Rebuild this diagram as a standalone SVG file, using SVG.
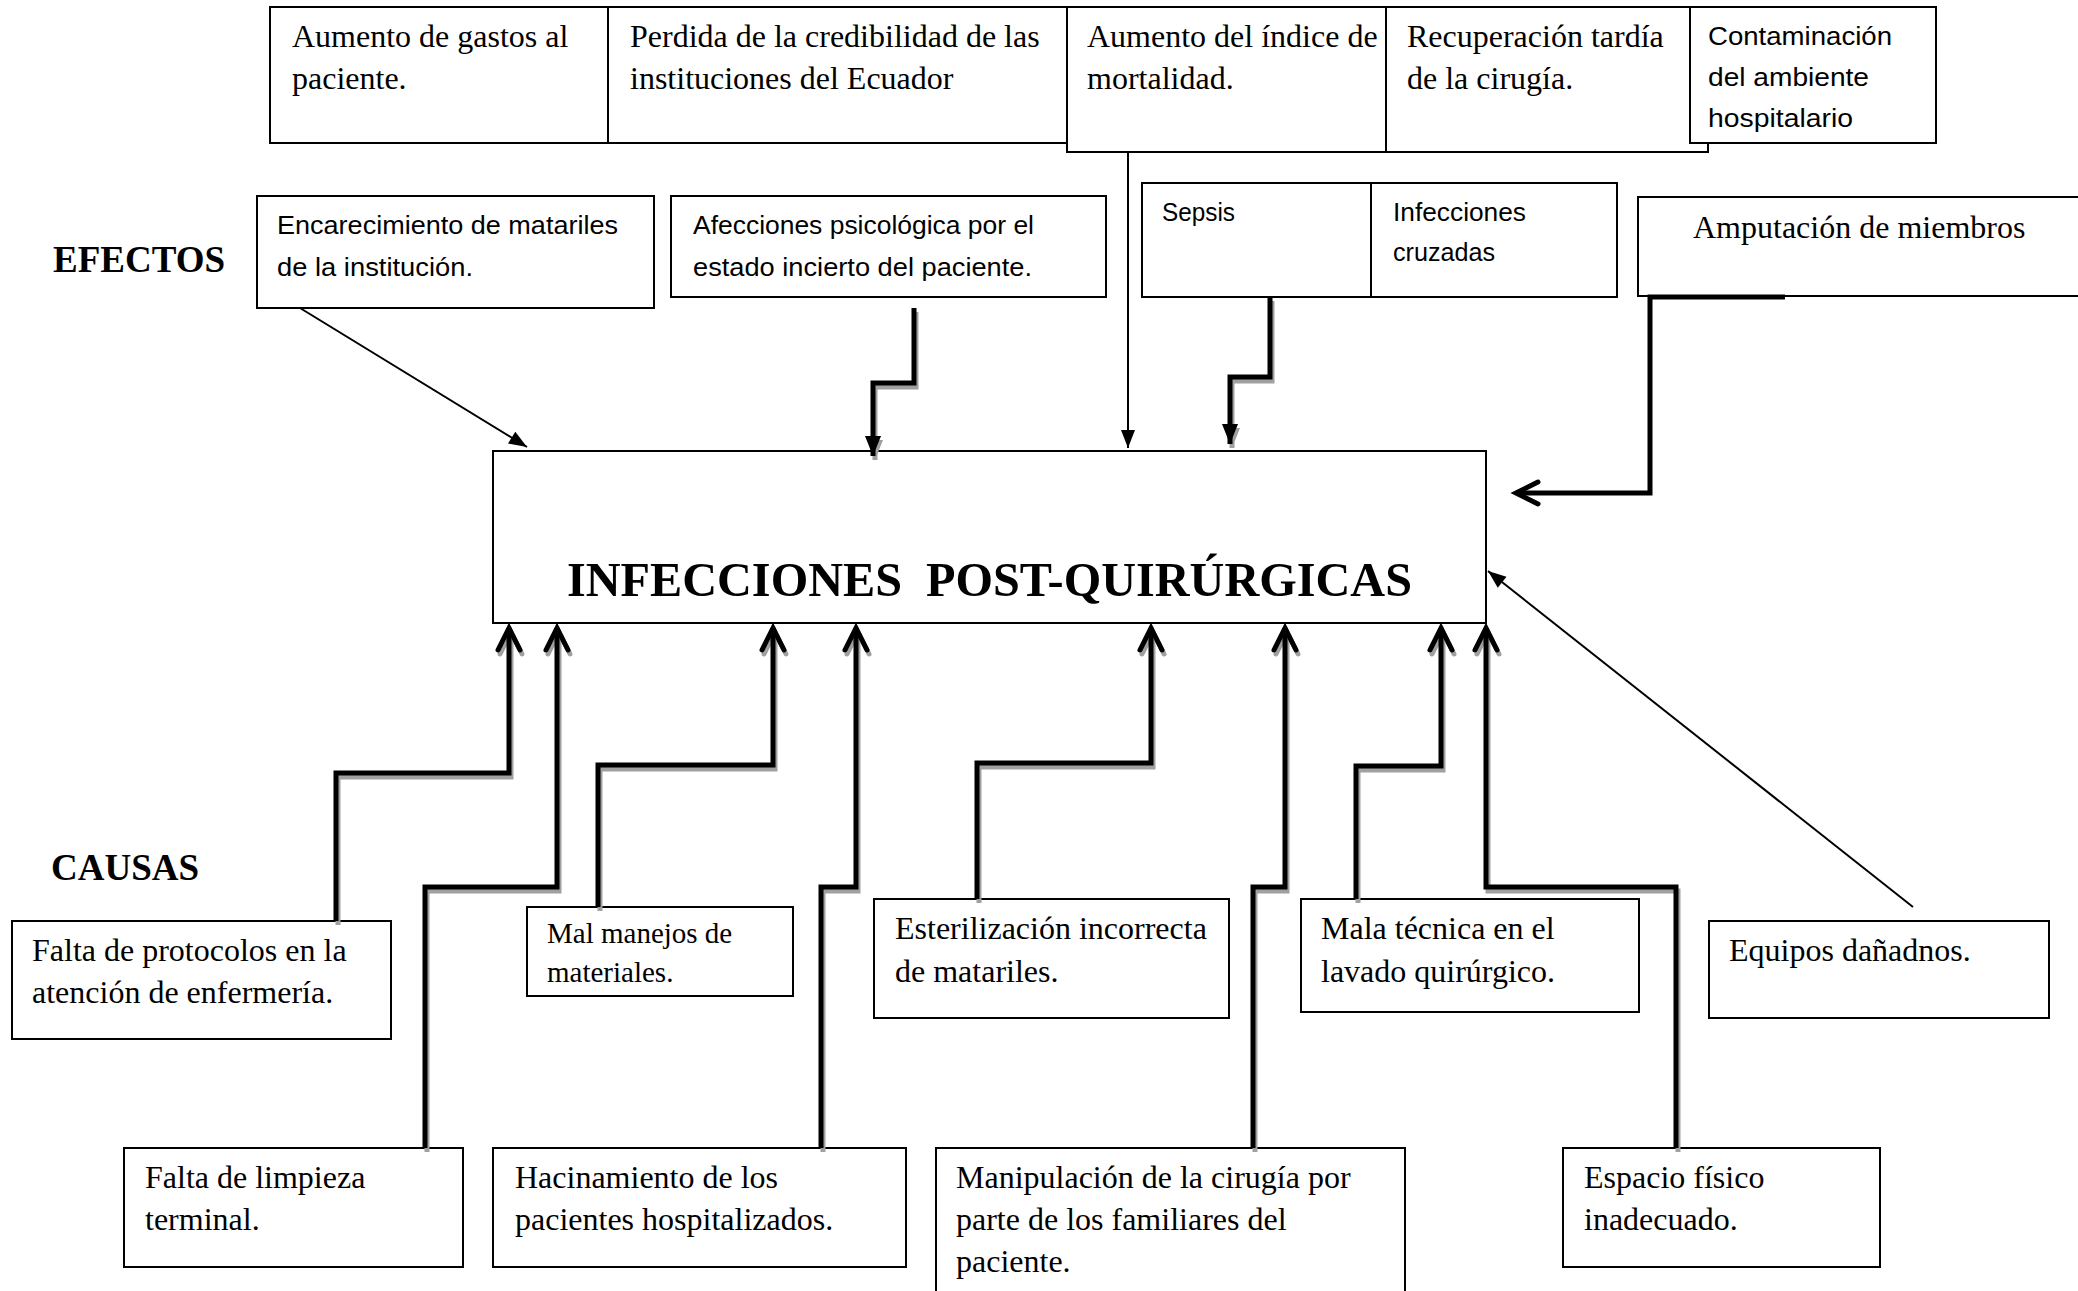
<svg xmlns="http://www.w3.org/2000/svg" width="2078" height="1291" viewBox="0 0 2078 1291">
<style>
.box{fill:#fff;stroke:#000;stroke-width:2}
.t{font-family:"Liberation Serif","Times New Roman",serif;font-size:32px;fill:#000}
.t29{font-family:"Liberation Serif","Times New Roman",serif;font-size:29px;fill:#000}
.s{font-family:"Liberation Sans",Arial,sans-serif;font-size:25px;fill:#000}
.h{font-family:"Liberation Serif","Times New Roman",serif;font-weight:bold;font-size:37px;fill:#000}
.title{font-family:"Liberation Serif","Times New Roman",serif;font-weight:bold;font-size:48px;fill:#000;white-space:pre}
.thin{fill:none;stroke:#000;stroke-width:2}
.thick{fill:none;stroke:#000;stroke-width:5}
.shadow{fill:none;stroke:#a0a0a0;stroke-width:5}
</style>
<defs>
<marker id="tri" markerUnits="userSpaceOnUse" viewBox="-30 -15 40 30" markerWidth="40" markerHeight="30" refX="0" refY="0" orient="auto" overflow="visible">
<path d="M-18,-7 L0,0 L-18,7 z" fill="#000"/>
</marker>
<marker id="triS" markerUnits="userSpaceOnUse" viewBox="-30 -15 40 30" markerWidth="40" markerHeight="30" refX="0" refY="0" orient="auto" overflow="visible">
<path d="M-18,-7 L0,0 L-18,7 z" fill="#a0a0a0"/>
</marker>
<marker id="tri2" markerUnits="userSpaceOnUse" viewBox="-30 -15 40 30" markerWidth="40" markerHeight="30" refX="0" refY="0" orient="auto" overflow="visible">
<path d="M-20,-8 L0,0 L-20,8 z" fill="#000"/>
</marker>
<marker id="triS2" markerUnits="userSpaceOnUse" viewBox="-30 -15 40 30" markerWidth="40" markerHeight="30" refX="0" refY="0" orient="auto" overflow="visible">
<path d="M-20,-8 L0,0 L-20,8 z" fill="#a0a0a0"/>
</marker>
<marker id="chev" markerUnits="userSpaceOnUse" viewBox="-30 -20 40 40" markerWidth="40" markerHeight="40" refX="0" refY="0" orient="auto" overflow="visible">
<path d="M-22,-11 L0,0 L-22,11" fill="none" stroke="#000" stroke-width="5" stroke-linecap="round" stroke-linejoin="miter"/>
</marker>
<marker id="chevS" markerUnits="userSpaceOnUse" viewBox="-30 -20 40 40" markerWidth="40" markerHeight="40" refX="0" refY="0" orient="auto" overflow="visible">
<path d="M-22,-11 L0,0 L-22,11" fill="none" stroke="#a0a0a0" stroke-width="5" stroke-linecap="round" stroke-linejoin="miter"/>
</marker>
</defs>
<rect width="2078" height="1291" fill="#fff"/>

<g id="labels">
<text class="h" x="53" y="272">EFECTOS</text>
<text class="h" x="51" y="880">CAUSAS</text>
</g>

<g id="effect-gastos">
<rect class="box" x="270" y="7" width="338" height="136"/>
<text class="t" x="292" y="47">Aumento de gastos al</text>
<text class="t" x="292" y="89">paciente.</text>
</g>
<g id="effect-credibilidad">
<rect class="box" x="608" y="7" width="459" height="136"/>
<text class="t" x="630" y="47">Perdida de la credibilidad de las</text>
<text class="t" x="630" y="89">instituciones del Ecuador</text>
</g>
<g id="effect-mortalidad">
<rect class="box" x="1067" y="7" width="319" height="145"/>
<text class="t" x="1087" y="47">Aumento del índice de</text>
<text class="t" x="1087" y="89">mortalidad.</text>
</g>
<g id="effect-recuperacion">
<rect class="box" x="1386" y="7" width="322" height="145"/>
<text class="t" x="1407" y="47">Recuperación tardía</text>
<text class="t" x="1407" y="89">de la cirugía.</text>
</g>
<g id="effect-contaminacion">
<rect class="box" x="1690" y="7" width="246" height="136"/>
<text class="s" x="1708" y="45" textLength="184" lengthAdjust="spacingAndGlyphs">Contaminación</text>
<text class="s" x="1708" y="86" textLength="161" lengthAdjust="spacingAndGlyphs">del ambiente</text>
<text class="s" x="1708" y="127" textLength="145" lengthAdjust="spacingAndGlyphs">hospitalario</text>
</g>
<g id="effect-encarecimiento">
<rect class="box" x="257" y="196" width="397" height="112"/>
<text class="s" x="277" y="234" textLength="341" lengthAdjust="spacingAndGlyphs">Encarecimiento de matariles</text>
<text class="s" x="277" y="276" textLength="196" lengthAdjust="spacingAndGlyphs">de la institución.</text>
</g>
<g id="effect-afecciones">
<rect class="box" x="671" y="196" width="435" height="101"/>
<text class="s" x="693" y="234" textLength="341" lengthAdjust="spacingAndGlyphs">Afecciones psicológica por el</text>
<text class="s" x="693" y="276" textLength="339" lengthAdjust="spacingAndGlyphs">estado incierto del paciente.</text>
</g>
<g id="effect-sepsis">
<rect class="box" x="1142" y="183" width="229" height="114"/>
<text class="s" x="1162" y="221" textLength="73" lengthAdjust="spacingAndGlyphs">Sepsis</text>
</g>
<g id="effect-cruzadas">
<rect class="box" x="1371" y="183" width="246" height="114"/>
<text class="s" x="1393" y="221" textLength="133" lengthAdjust="spacingAndGlyphs">Infecciones</text>
<text class="s" x="1393" y="261" textLength="102" lengthAdjust="spacingAndGlyphs">cruzadas</text>
</g>
<g id="effect-amputacion">
<rect class="box" x="1638" y="197" width="460" height="99"/>
<text class="t" x="1693" y="238">Amputación de miembros</text>
</g>

<g id="problem">
<rect class="box" x="493" y="451" width="993" height="172"/>
<text class="title" x="567" y="596" textLength="845" lengthAdjust="spacingAndGlyphs">INFECCIONES  POST-QUIRÚRGICAS</text>
</g>

<g id="cause-protocolos">
<rect class="box" x="12" y="921" width="379" height="118"/>
<text class="t" x="32" y="961">Falta de protocolos en la</text>
<text class="t" x="32" y="1003">atención de enfermería.</text>
</g>
<g id="cause-manejos">
<rect class="box" x="527" y="907" width="266" height="89"/>
<text class="t29" x="547" y="943">Mal manejos de</text>
<text class="t29" x="547" y="982">materiales.</text>
</g>
<g id="cause-esterilizacion">
<rect class="box" x="874" y="899" width="355" height="119"/>
<text class="t" x="895" y="939">Esterilización incorrecta</text>
<text class="t" x="895" y="982">de matariles.</text>
</g>
<g id="cause-lavado">
<rect class="box" x="1301" y="899" width="338" height="113"/>
<text class="t" x="1321" y="939">Mala técnica en el</text>
<text class="t" x="1321" y="982">lavado quirúrgico.</text>
</g>
<g id="cause-equipos">
<rect class="box" x="1709" y="921" width="340" height="97"/>
<text class="t" x="1729" y="961">Equipos dañadnos.</text>
</g>
<g id="cause-limpieza">
<rect class="box" x="124" y="1148" width="339" height="119"/>
<text class="t" x="145" y="1188">Falta de limpieza</text>
<text class="t" x="145" y="1230">terminal.</text>
</g>
<g id="cause-hacinamiento">
<rect class="box" x="493" y="1148" width="413" height="119"/>
<text class="t" x="515" y="1188">Hacinamiento de los</text>
<text class="t" x="515" y="1230">pacientes hospitalizados.</text>
</g>
<g id="cause-manipulacion">
<rect class="box" x="936" y="1148" width="469" height="160"/>
<text class="t" x="956" y="1188">Manipulación de la cirugía por</text>
<text class="t" x="956" y="1230">parte de los familiares del</text>
<text class="t" x="956" y="1272">paciente.</text>
</g>
<g id="cause-espacio">
<rect class="box" x="1563" y="1148" width="317" height="119"/>
<text class="t" x="1584" y="1188">Espacio físico</text>
<text class="t" x="1584" y="1230">inadecuado.</text>
</g>

<g id="connectors">
<g id="shadows" transform="translate(2,4)">
<path class="shadow" d="M914,308 V383 H873 V456" marker-end="url(#triS2)"/>
<path class="shadow" d="M1270,297 V377 H1230 V444" marker-end="url(#triS2)"/>
<path class="shadow" d="M336,921 V773 H509 V628" marker-end="url(#chevS)"/>
<path class="shadow" d="M425,1148 V887 H557 V628" marker-end="url(#chevS)"/>
<path class="shadow" d="M598,907 V765 H773 V628" marker-end="url(#chevS)"/>
<path class="shadow" d="M821,1148 V887 H856 V628" marker-end="url(#chevS)"/>
<path class="shadow" d="M977,899 V763 H1151 V628" marker-end="url(#chevS)"/>
<path class="shadow" d="M1253,1148 V887 H1285 V628" marker-end="url(#chevS)"/>
<path class="shadow" d="M1356,899 V766 H1441 V628" marker-end="url(#chevS)"/>
<path class="shadow" d="M1676,1148 V887 H1486 V628" marker-end="url(#chevS)"/>
</g>
<path class="thin" d="M300,308 L527,447" marker-end="url(#tri)"/>
<path class="thin" d="M1128,152 V448" marker-end="url(#tri)"/>
<path class="thin" d="M1913,907 L1488,571" marker-end="url(#tri)"/>
<path class="thick" d="M914,308 V383 H873 V456" marker-end="url(#tri2)"/>
<path class="thick" d="M1270,297 V377 H1230 V444" marker-end="url(#tri2)"/>
<path class="thick" d="M1785,297 H1650 V493 H1516" marker-end="url(#chev)"/>
<path class="thick" d="M336,921 V773 H509 V628" marker-end="url(#chev)"/>
<path class="thick" d="M425,1148 V887 H557 V628" marker-end="url(#chev)"/>
<path class="thick" d="M598,907 V765 H773 V628" marker-end="url(#chev)"/>
<path class="thick" d="M821,1148 V887 H856 V628" marker-end="url(#chev)"/>
<path class="thick" d="M977,899 V763 H1151 V628" marker-end="url(#chev)"/>
<path class="thick" d="M1253,1148 V887 H1285 V628" marker-end="url(#chev)"/>
<path class="thick" d="M1356,899 V766 H1441 V628" marker-end="url(#chev)"/>
<path class="thick" d="M1676,1148 V887 H1486 V628" marker-end="url(#chev)"/>
</g>
</svg>
